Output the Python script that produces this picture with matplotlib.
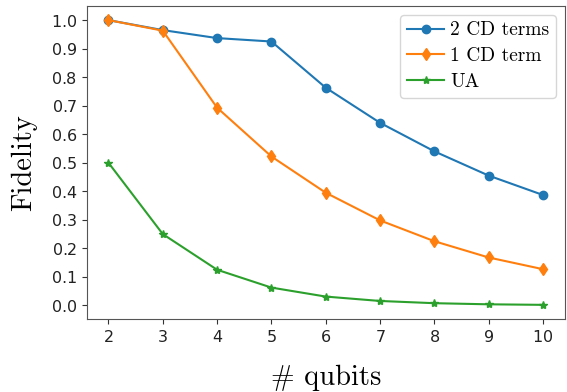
import matplotlib
matplotlib.use("Agg")
import matplotlib.pyplot as plt

qubits = [2, 3, 4, 5, 6, 7, 8, 9, 10]
fid_2cd = [1.0, 0.965, 0.937, 0.925, 0.763, 0.640, 0.540, 0.455, 0.387]
fid_1cd = [1.0, 0.963, 0.693, 0.522, 0.395, 0.298, 0.225, 0.168, 0.127]
fid_ua = [0.5, 0.25, 0.125, 0.0625, 0.031, 0.0156, 0.0078, 0.0039, 0.002]

plt.rcParams['axes.formatter.use_mathtext'] = True
plt.rcParams['mathtext.fontset'] = 'cm'

fig = plt.figure(figsize=(5.67, 3.92), dpi=100)
ax = fig.add_axes([0.153, 0.186, 0.843, 0.799])

ax.plot(qubits, fid_2cd, marker='o', color='#1f77b4', label='2 CD terms')
ax.plot(qubits, fid_1cd, marker='d', color='#ff7f0e', label='1 CD term')
ax.plot(qubits, fid_ua, marker='*', color='#2ca02c', label='UA')

ax.set_yticks([i / 10 for i in range(11)])
ax.set_xticks(qubits)
ax.tick_params(labelsize=11.5, colors='#333333', labelcolor='#222222')
for s in ax.spines.values():
    s.set_color('#555555')

serif = {'family': 'cmr10'}
ax.set_xlabel('# qubits', fontsize=20.5, fontdict=serif, labelpad=14)
ax.set_ylabel('Fidelity', fontsize=20.5, fontdict=serif, labelpad=10)
ax.legend(loc='upper right', prop={'family': 'cmr10', 'size': 14},
          handletextpad=0.3, borderaxespad=0.45, borderpad=0.35,
          labelspacing=0.4, handlelength=1.9)

fig.savefig('out.png', dpi=100)
